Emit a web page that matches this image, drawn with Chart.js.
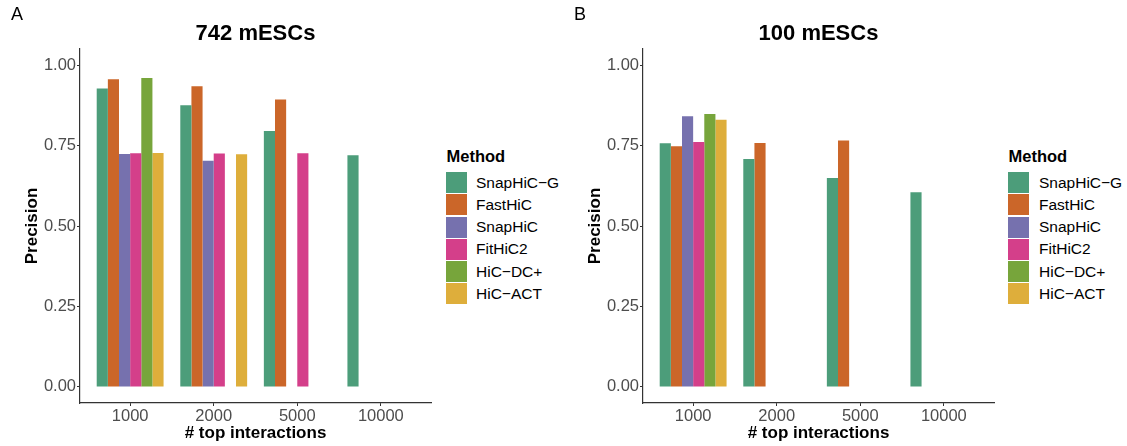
<!DOCTYPE html>
<html>
<head>
<meta charset="utf-8">
<script src="https://cdn.jsdelivr.net/npm/chart.js@4"></script>
<style>
  html, body { margin:0; padding:0; background:#fff; }
  body { width:1127px; height:446px; position:relative; overflow:hidden; font-family:"Liberation Sans", Arial, Helvetica, sans-serif; }
  .abs { position:absolute; white-space:nowrap; }
  .plab { font-size:18px; color:#000; }
  .ptitle { font-size:22px; font-weight:bold; color:#000; transform:translate(-50%,-50%); }
  .ltitle { font-size:16.5px; font-weight:bold; color:#000; transform:translateY(-50%); }
  .sw { width:21px; height:21px; }
  .ltxt { font-size:15.5px; color:#000; transform:translateY(-50%); }
  canvas { position:absolute; top:0; }
</style>
</head>
<body>
<canvas id="cA" width="445" height="446" style="left:0px"></canvas>
<canvas id="cB" width="445" height="446" style="left:563px"></canvas>
<div id="overlay"></div>
<script>
// ---------- data ----------
const categories = ["1000", "2000", "5000", "10000"];
const methods = ["SnapHiC\u2212G", "FastHiC", "SnapHiC", "FitHiC2", "HiC\u2212DC+", "HiC\u2212ACT"];
const colors = ["#4C9D7A", "#CB6629", "#7671AE", "#D43F8A", "#77A53B", "#DEAE3B"];
const yTicks = [0, 0.25, 0.5, 0.75, 1.0];

// Panel A: 742 mESCs (values per method across categories)
const A_SnapHiC_G = [0.927, 0.875, 0.795, 0.720];
const A_FastHiC   = [0.956, 0.934, 0.893, 0];
const A_SnapHiC   = [0.724, 0.703, 0, 0];
const A_FitHiC2   = [0.726, 0.725, 0.726, 0];
const A_HiC_DC    = [0.960, 0, 0, 0];
const A_HiC_ACT   = [0.727, 0.723, 0, 0];

// Panel B: 100 mESCs
const B_SnapHiC_G = [0.757, 0.708, 0.649, 0.605];
const B_FastHiC   = [0.748, 0.758, 0.766, 0];
const B_SnapHiC   = [0.841, 0, 0, 0];
const B_FitHiC2   = [0.761, 0, 0, 0];
const B_HiC_DC    = [0.848, 0, 0, 0];
const B_HiC_ACT   = [0.830, 0, 0, 0];

const panelA = [A_SnapHiC_G, A_FastHiC, A_SnapHiC, A_FitHiC2, A_HiC_DC, A_HiC_ACT];
const panelB = [B_SnapHiC_G, B_FastHiC, B_SnapHiC, B_FitHiC2, B_HiC_DC, B_HiC_ACT];

// ---------- chart ----------
const FONT = '"Liberation Sans", Arial, Helvetica, sans-serif';
const AXIS = '#333333';

function makeChart(id, series) {
  const datasets = series.map((vals, i) => ({
    label: methods[i],
    data: vals.map((v, j) => ({ x: j, y: v })),
    backgroundColor: colors[i],
    borderWidth: 0,
    categoryPercentage: 0.8,
    barPercentage: 1.0
  }));
  return new Chart(document.getElementById(id), {
    type: 'bar',
    data: { datasets },
    options: {
      responsive: false,
      animation: false,
      devicePixelRatio: 1,
      layout: { padding: { left: 0, top: 49, right: 14, bottom: 0 } },
      plugins: { legend: { display: false }, tooltip: { enabled: false }, title: { display: false } },
      scales: {
        x: {
          type: 'linear',
          min: -0.6, max: 3.6,
          offset: false,
          afterBuildTicks: s => { s.ticks = categories.map((c, i) => ({ value: i })); },
          afterFit: s => { s.height = 43; },
          ticks: {
            callback: v => categories[v],
            font: { family: FONT, size: 16.5 },
            color: '#4D4D4D',
            padding: 1,
            maxRotation: 0, autoSkip: false
          },
          grid: { display: true, drawOnChartArea: false, drawTicks: true, tickLength: 3, tickColor: AXIS, offset: false },
          border: { display: true, color: AXIS, width: 1.2 },
          title: { display: true, text: '# top interactions', font: { family: FONT, size: 17, weight: 'bold' }, color: '#000', padding: { top: 0, bottom: 2 } }
        },
        y: {
          min: -0.05, max: 1.05,
          afterBuildTicks: s => { s.ticks = yTicks.map(v => ({ value: v })); },
          afterFit: s => { s.width = 80; },
          ticks: {
            callback: v => Number(v).toFixed(2),
            font: { family: FONT, size: 16.5 },
            color: '#4D4D4D',
            padding: 1
          },
          grid: { display: true, drawOnChartArea: false, drawTicks: true, tickLength: 3, tickColor: AXIS },
          border: { display: true, color: AXIS, width: 1.2 },
          title: { display: true, text: 'Precision', font: { family: FONT, size: 17, weight: 'bold' }, color: '#000', padding: { top: 22, bottom: 0 } }
        }
      }
    }
  });
}

makeChart('cA', panelA);
makeChart('cB', panelB);

// ---------- titles, panel labels and legends (HTML text) ----------
const ov = document.getElementById('overlay');
function add(cls, text, left, top, extra) {
  const d = document.createElement('div');
  d.className = 'abs ' + cls;
  d.textContent = text;
  d.style.left = left + 'px';
  d.style.top = top + 'px';
  if (extra) Object.assign(d.style, extra);
  ov.appendChild(d);
  return d;
}
add('plab', 'A', 11, 4);
add('plab', 'B', 574, 4);
add('ptitle', '742 mESCs', 255.5, 32.5);
add('ptitle', '100 mESCs', 818.5, 32.5);

function legend(x0, labelX) {
  add('ltitle', 'Method', x0 + 1, 155.5);
  methods.forEach((m, i) => {
    const top = 171.7 + 22.2 * i;
    const s = add('sw', '', x0, top + 0.5);
    s.style.background = colors[i];
    add('ltxt', m, labelX, top + 11.1);
  });
}
legend(445.5, 476);
legend(1007.5, 1039);
</script>
</body>
</html>
